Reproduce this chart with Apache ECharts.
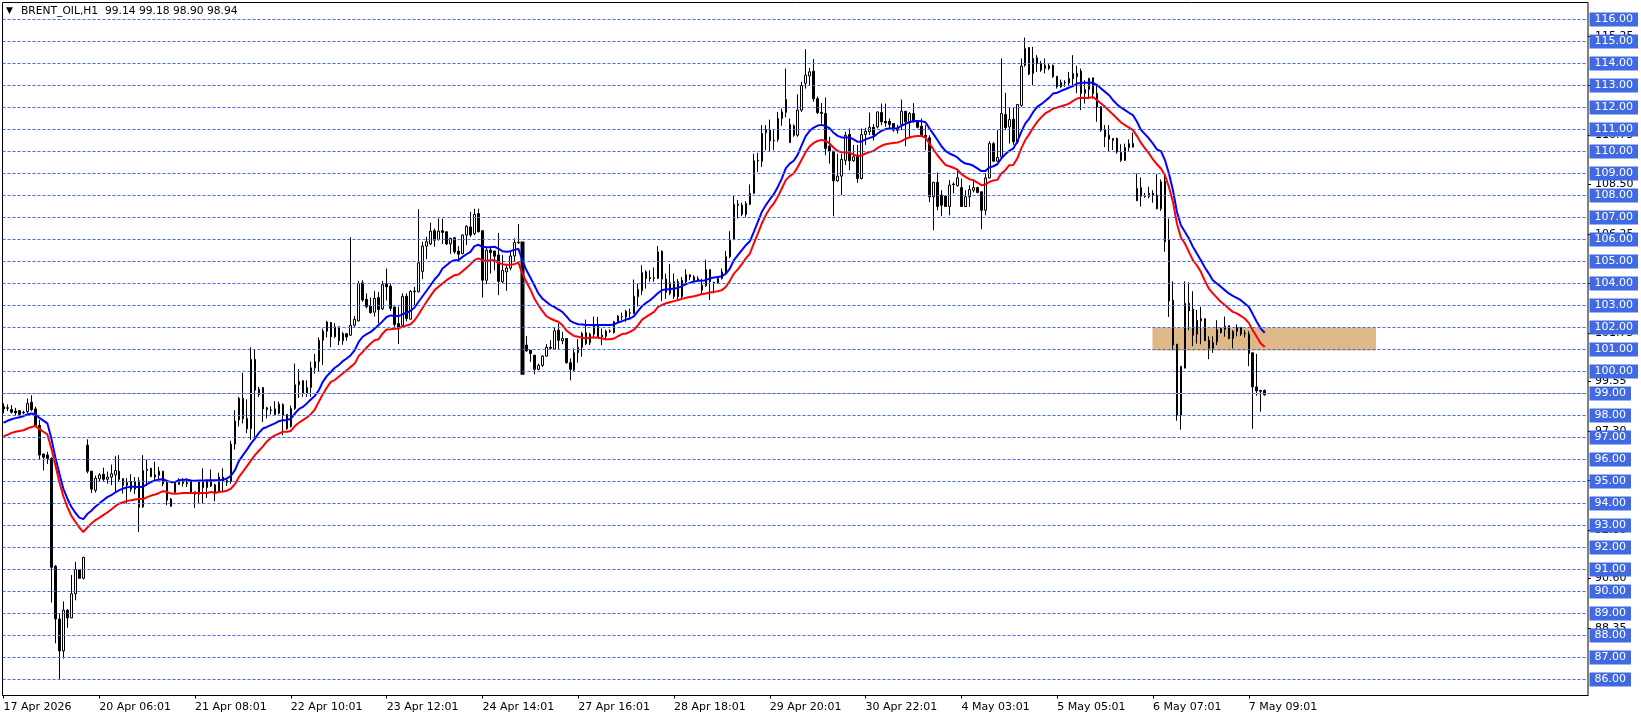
<!DOCTYPE html>
<html>
<head>
<meta charset="utf-8">
<style>html,body{margin:0;padding:0;background:#fff}#c{width:1641px;height:719px}</style>
<script src="https://cdn.jsdelivr.net/npm/echarts@6/dist/echarts.min.js"></script>
</head>
<body>
<div id="c"></div>
<script>
const titleText = 'BRENT_OIL,H1  99.14 99.18 98.90 98.94';
const timeLabels = ['17 Apr 2026','20 Apr 06:01','21 Apr 08:01','22 Apr 10:01','23 Apr 12:01','24 Apr 14:01','27 Apr 16:01','28 Apr 18:01','29 Apr 20:01','30 Apr 22:01','4 May 03:01','5 May 05:01','6 May 07:01','7 May 09:01'];
const timeTickIndex = [0,24,48,72,96,120,144,168,192,216,240,264,288,312];
const priceTicks = [115.25,113,110.75,108.5,106.25,104,101.75,99.55,97.3,95.05,92.8,90.6,88.35];
const levels = [116,115,114,113,112,111,110,109,108,107,106,105,104,103,102,101,100,99,98,97,96,95,94,93,92,91,90,89,88,87,86];
const bidLevel = 99;
const zoneBars = [287.875,343.875];
const zonePrices = [102,100.95];
const thickBars = [130];

const opens = [98.4,98.35,98.27,98.2,98.23,98.15,98.17,98.6,98.3,97.55,
96.25,96.2,96.05,91.15,88.75,87.3,89.15,88.8,89.9,91,
90.6,96.65,95.47,94.6,95.13,95.33,95.1,95.2,95.3,95.47,
95.13,94.83,95,94.65,95.03,93.85,95.55,95.6,95.3,95.28,
95.47,94.95,94.2,94.5,94.87,95.03,94.95,95,94.53,94.42,
95,94.72,95,94.85,94.55,95.2,94.95,95,96.7,97.8,
98.78,97.87,97.4,100.55,99.2,99.27,98.35,98.25,98.3,98.1,
98.5,98.05,97.5,98.32,99.4,99.58,99,99.27,100.17,100.45,
101.42,101.83,102.23,101.58,102.03,101.4,101.72,101.65,102.1,102.3,
104.03,103.28,102.97,102.7,103.36,102.85,103.98,103.88,102.93,102.18,
102.1,103.42,102.38,103.65,103.62,104.55,105.7,105.8,106.4,106,
106.4,106.35,105.8,106.08,105.47,105.36,106.2,106.57,106.27,107.18,
106.4,104.15,105.52,105.48,105.3,104.08,104.53,104.7,105.25,105.88,
105.86,101.2,100.97,100.74,100.1,100.28,100.7,101.1,101.02,101.88,
101.4,101.5,100.4,100.06,100.86,101.1,101.76,101.3,101.7,102.1,
101.65,101.6,101.84,101.76,102.26,102.48,102.48,102.67,102.64,103.4,
103.67,104.53,104.27,104.26,104.23,105.47,104.2,104.03,103.4,104.08,
103.4,104.08,104.4,104.3,104.22,103.7,103.9,104.63,104.05,104.03,
104.23,104.53,105.22,106,107.6,107.56,107.15,107.6,108.1,109.6,
109.55,110.85,110.97,110.5,110.55,111.5,111.78,110.4,111.17,110.74,
111.88,113.1,113.44,113.65,112.4,111.78,111.73,110.24,110.02,108.67,
108.88,109.6,110.77,109.58,109.84,108.77,110.77,110.9,111.1,111.12,
111.77,111.37,111.37,111.27,111.07,111.22,111.83,111.35,111.73,111.35,
111.15,110.73,110.62,107.94,108.6,108.02,107.98,107.5,108.52,108.45,
108.36,107.5,107.94,108.24,108.36,108.17,107.33,108.8,110.36,109.56,
109.76,111.68,111.12,111.47,110.44,112.1,113.92,114.73,113.55,114.26,
114,113.77,113.9,113.4,113.42,112.94,113.15,113.1,113.3,113.55,
113.65,112.64,112.83,113.35,112.65,112.03,111,110.74,110.5,110.6,
109.95,109.6,110.18,110.36,107.76,108.36,107.98,107.95,108.1,108.02,
107.4,108.65,105.97,103.24,101.24,98.02,100.15,103.1,102.83,101.7,
102.3,102.4,101.42,101.06,101.35,101.95,101.92,102.08,101.5,101.83,
102,101.74,101.7,100.85,99.3,99.14,99.14];

const closes = [98.3,98.33,98.15,98.12,98.05,98.12,98.55,98.27,97.55,96.2,
96.1,96.05,91.1,88.75,87.3,89.15,88.8,89.9,91,90.6,
91.55,95.47,94.65,95.15,95.3,95.1,95.2,95.35,95.5,95.1,
94.83,94.95,94.65,95,93.83,95.5,95.5,95.22,95.2,95.47,
94.9,94.15,93.88,94.95,95.03,94.92,94.9,94.5,94.42,95,
94.72,95.05,94.8,94.5,95.2,95,95.05,96.7,97.75,98.78,
97.86,97.4,100.55,99.15,98.95,98.3,98.27,98.24,98.05,98.52,
98,97.4,98.32,99.4,99.55,99,99.27,100.17,100.45,101.42,
101.83,102.25,101.58,102.03,101.4,101.72,101.57,102.1,102.37,104,
103.25,102.95,102.68,103.32,102.82,103.95,103.85,102.87,102.13,102,
103.42,102.4,103.64,103.63,104.94,105.7,105.9,106.38,105.97,106.38,
106.32,105.8,106.05,105.44,105.33,106.2,106.6,106.2,107.14,106.35,
104.15,105.52,105.4,105.24,104.1,104.6,104.7,105.25,105.86,105.85,
99.9,100.94,100.82,100.1,100.28,100.7,101.1,101.06,101.85,101.42,
101.5,100.4,100.1,100.86,101.1,101.73,101.27,101.7,102.1,101.58,
101.58,101.83,101.83,102.26,102.52,102.5,102.74,102.65,103.42,103.74,
104.5,104.23,104.22,104.24,105.44,104.2,103.6,103.55,104.08,103.4,
104.15,104.4,104.3,104.15,104.15,103.92,104.63,104.08,104.03,104.23,
104.53,105.22,105.97,107.6,107.55,107.15,107.64,108.1,109.58,109.57,
110.82,111,110.48,110.48,111.5,111.8,112.36,111.23,110.74,111.88,
113,113.47,113.62,112.4,111.77,111.73,110.14,110.02,108.67,108.88,
109.64,110.74,109.58,109.76,108.77,110.77,110.92,111.1,110.75,111.8,
111.35,111.3,111.22,110.97,110.97,111.83,111.35,111.73,111.35,111.1,
110.7,110.66,107.94,108.6,107.5,107.56,107.5,108.47,108.5,108.8,
107.5,107.94,108.27,108.36,108.14,107.33,108.8,110.36,109.56,109.73,
111.73,111.09,111.45,110.44,112.14,113.88,114.68,113.52,114.23,114,
113.7,113.92,113.78,113.92,112.94,113.14,113.13,113.32,113.55,113.4,
112.64,112.82,113.32,112.64,112.03,110.97,110.67,110.56,110.6,109.98,
109.6,110.18,110.36,110.2,108.32,107.97,107.96,108.1,108.02,107.4,
108.62,105.9,103.2,101.2,98.02,100.24,103.1,102.76,101.65,102.33,
102.4,101.4,101.06,101.32,101.9,101.77,102.06,101.5,101.83,102,
101.7,101.71,100.82,99.3,99.12,99.1,98.94];

const highs = [98.55,98.5,98.47,98.35,98.25,98.22,98.77,98.92,98.4,97.8,
96.25,96.35,96.1,91.2,89,89.55,89.2,90.75,91.35,91,
91.58,96.92,95.47,95.27,95.38,95.63,95.45,95.77,96.15,96.2,
95.15,95.15,95.33,95.2,95.2,96.2,96,95.6,95.9,95.67,
95.47,95,94.25,95,95.15,95.15,95.15,95,94.53,95,
95.6,95.05,95.55,94.9,95.4,95.6,95.15,96.85,98.24,98.85,
99.94,98.73,101.1,101,99.3,99.27,98.4,98.42,98.65,98.63,
98.55,98.05,98.45,100.36,100.1,99.6,99.6,100.45,100.8,101.55,
101.95,102.3,102.25,102.2,102.05,101.8,101.75,106.1,102.53,104.12,
104.15,103.55,103.36,103.65,103.62,104.12,104.68,104,102.95,102.95,
103.55,103.55,103.7,103.85,107.38,105.9,106.12,106.77,106.5,106.95,
106.95,106.38,106.08,106.12,105.7,106.23,106.65,107.26,107.4,107.4,
106.4,105.67,105.7,105.48,106.3,105.3,104.88,105.44,106.05,106.7,
105.9,101.62,100.97,100.74,100.36,100.74,101.25,101.42,102,102.18,
101.8,101.5,100.6,101.05,101.47,101.8,102.36,101.76,102.5,102.48,
101.95,101.9,101.92,102.3,102.56,102.68,102.8,102.86,104.18,104,
104.83,104.6,104.6,104.73,105.7,105.5,104.45,104.88,104.45,104.2,
104.3,104.65,104.4,104.38,104.33,104.22,105.08,104.63,104.08,104.27,
104.68,105.48,106.38,108,107.8,107.68,107.74,108.5,109.9,109.94,
111.2,111.2,111.45,110.97,111.8,111.95,113.77,111.5,111.23,112.6,
113.17,114.65,113.8,114.2,112.5,112.2,112.45,110.67,110.02,109.9,
109.9,110.9,111.05,110.3,110.3,111.05,111.08,111.77,111.25,111.8,
112.18,112.18,111.5,111.27,111.22,112.36,111.83,111.8,112.2,111.42,
111.5,111.2,110.74,108.62,109.05,108.24,107.98,108.7,108.6,109.2,
108.77,108.24,108.47,108.73,108.4,108.17,109,110.47,110.44,110.97,
114.23,112.67,111.98,112,112.14,114.23,115.18,114.73,114.76,114.38,
114.12,114.23,114,113.95,113.42,113.27,113.24,113.62,114.38,113.9,
113.77,113.24,113.35,113.35,113,112.06,111.2,111.2,110.6,110.63,
110.33,110.36,110.55,110.86,109,108.82,108.12,108.4,108.24,108.97,
108.73,109,106.95,104.1,101.24,100.24,104.1,104.05,103.65,102.8,
102.94,102.4,101.6,101.6,102.33,102,102.5,102.08,101.88,102.14,
102.03,101.88,101.83,100.85,100.8,99.16,99.18];

const lows = [98.1,98.2,98.09,98,97.95,98.05,98.09,98.2,97.5,96,
95.5,95.8,89.5,87.65,86,86.95,88.35,88.8,89.6,90.6,
90.55,95.37,94.48,94.5,95,95.03,94.9,94.83,94.5,95,
94.45,94,94.53,94.43,92.7,93.8,94.8,95.2,95,95.1,
94.78,93.92,93.85,94.45,94.85,94.77,94.75,94.5,93.8,94,
94,94.25,94.75,94.1,94.55,94.55,94.8,94.9,96.45,97.5,
97.64,97.2,96.9,97,98.85,97.7,97.87,98.05,98,98.05,
97.1,97.35,97.45,98.25,98.8,98.85,98.85,98.85,99.9,100,
100.3,101.55,101.1,101.53,101.2,101.22,101.4,101.62,102.03,102.27,
103.17,102.87,102.63,102.5,102.18,102.8,103.23,102.75,102.03,101.25,
102.03,102.28,102.35,103,103.6,104.2,105.1,105.75,105.67,105.95,
105.8,105.75,105.35,105.36,104.98,105.33,105.75,106.12,106.2,106.33,
103.36,103.97,104.45,104.6,103.47,104,103.67,104.6,104.98,105.8,
99.9,100.9,100.44,99.88,100.06,100.2,100.67,101,101,101,
101.24,100.36,99.6,100,100.4,100.67,101.2,101.2,101.5,101.58,
101.2,101.42,101.76,101.73,102.2,102.33,102.26,102.4,102.6,102.95,
103.47,103.77,104.08,104.08,104.22,103.2,103.3,103.47,103.3,103.3,
103.3,104,104.15,104.08,104.08,103.55,103.85,103.25,103.55,104,
104.18,104.45,105.15,105.97,106.95,107.06,107.03,107.56,108.06,109.07,
109.3,110.06,110.02,110.06,110.44,111.17,111.55,110.4,110.67,110.67,
111.8,112.86,113,112.26,111.7,111.27,109.83,109.45,107.06,108.62,
108.02,109.38,109.15,109.53,108.58,108.73,110.3,110.75,110.5,111.05,
111.2,111.12,110.97,110.9,110.82,110.97,110.24,110.64,111.3,111.05,
110.67,110.06,107.7,106.42,107.33,107.06,107.48,107.1,108.1,108.4,
107.48,107.48,107.48,108.14,108.1,106.47,107.1,108.77,109.53,109.53,
109.68,110.97,110.36,110.3,110.36,112.03,113.85,113.47,113.02,113.62,
113.62,113.55,113.7,113.35,112.86,112.9,112.94,113.02,112.94,112.65,
111.88,112.18,112.4,112.4,111.35,110.9,110.2,110,110.07,109.9,
109.53,109.57,110.03,110.18,107.76,107.5,107.9,107.87,107.67,107.37,
107.3,105.44,102.48,100.97,97.76,97.36,100.15,101.88,101.15,101.27,
101.24,101.4,100.56,100.85,101.2,101.73,101.58,101.47,101.05,101.6,
101.62,101.55,100.24,97.4,98.9,98.17,98.9];

const blueMA = [97.67,97.76,97.83,97.88,97.92,97.97,98.05,98.09,98.06,97.89,
97.77,97.64,96.95,96.09,95.36,94.67,94.23,93.85,93.58,93.36,
93.29,93.52,93.67,93.85,94,94.15,94.29,94.38,94.5,94.61,
94.68,94.74,94.76,94.76,94.74,94.77,94.88,94.98,95.05,95.09,
95.1,95.03,94.97,94.98,95.06,95.08,95.08,95.05,95.03,95.05,
95.05,95.06,95.06,95.06,95.06,95.08,95.14,95.26,95.52,95.94,
96.2,96.45,96.72,96.95,97.21,97.41,97.48,97.56,97.64,97.74,
97.79,97.79,97.86,98.09,98.29,98.39,98.55,98.73,98.89,99.15,
99.53,99.79,99.98,100.17,100.29,100.47,100.59,100.74,100.97,101.35,
101.58,101.7,101.8,101.95,102.11,102.29,102.48,102.55,102.52,102.52,
102.6,102.67,102.76,102.91,103.17,103.42,103.67,103.92,104.18,104.38,
104.68,104.83,104.98,105.06,105.06,105.21,105.33,105.44,105.7,105.76,
105.67,105.65,105.65,105.67,105.59,105.47,105.44,105.47,105.53,105.58,
105.06,104.61,104.27,103.92,103.55,103.32,103.17,103.02,102.94,102.82,
102.71,102.52,102.3,102.21,102.15,102.14,102.11,102.11,102.11,102.11,
102.11,102.11,102.11,102.14,102.23,102.29,102.36,102.41,102.52,102.76,
102.97,103.12,103.24,103.4,103.57,103.7,103.74,103.74,103.77,103.8,
103.88,103.97,104.03,104.09,104.12,104.12,104.15,104.23,104.27,104.3,
104.33,104.45,104.68,105.06,105.29,105.52,105.74,105.92,106.35,106.8,
107.26,107.56,107.82,108.06,108.39,108.77,109.23,109.45,109.58,109.86,
110.29,110.7,110.94,111.09,111.18,111.21,111.15,111.05,110.85,110.71,
110.64,110.64,110.64,110.55,110.44,110.46,110.55,110.62,110.67,110.82,
110.94,111.02,111.05,111.05,111.06,111.17,111.26,111.33,111.39,111.39,
111.38,111.33,111.05,110.79,110.52,110.24,110.03,109.91,109.83,109.73,
109.56,109.45,109.42,109.35,109.23,109.11,109.11,109.27,109.33,109.42,
109.68,109.88,110.03,110.14,110.44,110.89,111.27,111.5,111.8,112.03,
112.15,112.3,112.45,112.64,112.67,112.76,112.83,112.91,112.97,113.09,
113.12,113.12,113.14,113.12,113.02,112.86,112.71,112.56,112.33,112.14,
112,111.88,111.76,111.65,111.35,110.98,110.79,110.59,110.36,110.09,
110.02,109.61,109,108.24,107.26,106.65,106.35,106.05,105.67,105.36,
105.06,104.73,104.45,104.15,104,103.85,103.7,103.55,103.44,103.35,
103.24,103.09,102.94,102.61,102.26,101.95,101.76];

const redMA = [97.06,97.12,97.21,97.26,97.3,97.33,97.41,97.48,97.52,97.39,
97.26,97.14,96.5,95.74,94.98,94.33,93.85,93.44,93.17,92.91,
92.7,92.91,93.09,93.24,93.35,93.47,93.59,93.73,93.88,94,
94.06,94.12,94.15,94.18,94.2,94.2,94.29,94.36,94.41,94.48,
94.56,94.52,94.45,94.44,94.45,94.48,94.48,94.48,94.48,94.48,
94.48,94.48,94.52,94.48,94.52,94.55,94.58,94.68,94.88,95.21,
95.45,95.7,95.95,96.2,96.4,96.6,96.82,96.98,97.1,97.18,
97.26,97.26,97.3,97.52,97.67,97.79,97.91,98.06,98.27,98.62,
98.97,99.26,99.53,99.61,99.76,99.91,100.06,100.21,100.36,100.71,
100.89,101.09,101.27,101.42,101.47,101.73,101.91,101.92,101.94,101.95,
102.06,102.09,102.15,102.33,102.59,102.89,103.17,103.44,103.7,103.85,
104,104.15,104.27,104.38,104.41,104.56,104.71,104.88,105.06,105.14,
105.06,105.03,105.06,105.06,104.94,104.88,104.85,104.85,104.88,104.95,
104.45,104.08,103.73,103.32,103.02,102.76,102.52,102.41,102.33,102.26,
102.11,101.88,101.73,101.61,101.58,101.53,101.5,101.55,101.55,101.53,
101.5,101.47,101.47,101.5,101.61,101.7,101.73,101.8,101.91,102.11,
102.36,102.48,102.6,102.71,102.94,103.03,103.1,103.15,103.2,103.25,
103.3,103.35,103.39,103.42,103.47,103.52,103.55,103.59,103.62,103.65,
103.7,103.85,104.12,104.45,104.64,104.88,105.14,105.36,105.82,106.27,
106.73,107.11,107.41,107.64,107.94,108.32,108.7,108.88,109,109.3,
109.64,109.98,110.24,110.39,110.48,110.53,110.48,110.36,110.17,110.02,
109.97,109.95,109.94,109.86,109.79,109.82,109.91,109.97,110.03,110.16,
110.26,110.33,110.36,110.39,110.41,110.47,110.58,110.64,110.68,110.7,
110.7,110.64,110.36,110.09,109.83,109.61,109.39,109.33,109.26,109.18,
108.97,108.85,108.74,108.7,108.59,108.47,108.5,108.62,108.68,108.71,
109,109.15,109.38,109.39,109.68,110.14,110.52,110.79,111.09,111.35,
111.55,111.73,111.83,111.95,112,112.06,112.11,112.18,112.3,112.41,
112.44,112.43,112.44,112.48,112.33,112.18,112.03,111.85,111.68,111.5,
111.32,111.2,111.09,110.97,110.7,110.39,110.14,109.91,109.64,109.42,
109.23,108.92,108.39,107.71,106.73,106.09,105.82,105.44,105.06,104.83,
104.53,104.12,103.77,103.55,103.36,103.17,103.02,102.86,102.71,102.64,
102.53,102.41,102.21,101.88,101.58,101.27,101.12];

const FONT = 'DejaVu Sans';
const chart = echarts.init(document.getElementById('c'), null, {renderer:'canvas'});
const PRICE_MIN = 85.273, PRICE_MAX = 116.773;
const baseY = {type:'value', position:'right', min:PRICE_MIN, max:PRICE_MAX, scale:true, splitLine:{show:false}, axisLine:{show:false, onZero:false}};
chart.setOption({
  animation:false,
  backgroundColor:'#ffffff',
  title:[
    {text:'▼', left:6, top:6, padding:0, textStyle:{fontFamily:FONT, fontSize:9, fontWeight:'normal', color:'#000'}},
    {text:titleText, left:21, top:6, padding:0, textStyle:{fontFamily:FONT, fontSize:10.7, fontWeight:'normal', color:'#000'}}
  ],
  grid:{left:2.5, top:2.5, width:1589, height:693, show:true, borderColor:'#000', borderWidth:1, backgroundColor:'#fff', containLabel:false},
  xAxis:{type:'value', min:-0.25, max:397, splitLine:{show:false},
    axisLine:{show:true, onZero:false, lineStyle:{color:'#000'}},
    axisTick:{show:true, length:3, customValues:timeTickIndex, lineStyle:{color:'#000'}},
    axisLabel:{show:true, customValues:timeTickIndex, align:'left', margin:6, color:'#000', fontFamily:FONT, fontSize:11,
      formatter:v=>timeLabels[timeTickIndex.indexOf(v)]}},
  yAxis:[
    Object.assign({}, baseY, {z:2,
      axisTick:{show:true, length:3, customValues:priceTicks, lineStyle:{color:'#000'}},
      axisLabel:{show:true, customValues:priceTicks, align:'left', margin:7, color:'#000', fontFamily:FONT, fontSize:11,
        formatter:v=>v.toFixed(2)}}),
    Object.assign({}, baseY, {z:3,
      axisTick:{show:false},
      axisLabel:{show:true, customValues:levels, align:'left', margin:1.5, color:'#fff', fontFamily:FONT, fontSize:11,
        backgroundColor:'#4169E1', padding:[3,5,0,5], lineHeight:11,
        formatter:v=>v.toFixed(2)}})
  ],
  series:[
    {type:'line', name:'levels', data:[], z:1, silent:true, symbol:'none',
      markArea:{silent:true, itemStyle:{color:'#DEB887', opacity:1},
        data:[[{xAxis:zoneBars[0], yAxis:zonePrices[0]},{xAxis:zoneBars[1], yAxis:zonePrices[1]}]]},
      markLine:{silent:true, symbol:'none', animation:false, label:{show:false},
        data:[{yAxis:bidLevel, lineStyle:{color:'#C0C0C0', type:'solid', width:1}}]
          .concat(levels.map(v=>({yAxis:v, lineStyle:{color:'#4169E1', type:[3,2], width:1}})))}},
    {type:'candlestick', name:'BRENT_OIL', z:2, barWidth:2,
      itemStyle:{color:'#ffffff', color0:'#000000', borderColor:'#000000', borderColor0:'#000000', borderWidth:1},
      data:opens.map((o,i)=>{
        const value=[i,o,closes[i],lows[i],highs[i]];
        return thickBars.includes(i) ? {value, itemStyle:{borderWidth:2}} : value;
      })},
    {type:'line', name:'EMA fast', z:3, symbol:'none', silent:true, lineStyle:{color:'#0000FF', width:2}, data:blueMA.map((v,i)=>[i,v])},
    {type:'line', name:'EMA slow', z:3, symbol:'none', silent:true, lineStyle:{color:'#FF0000', width:2}, data:redMA.map((v,i)=>[i,v])}
  ]
});
</script>
</body>
</html>
